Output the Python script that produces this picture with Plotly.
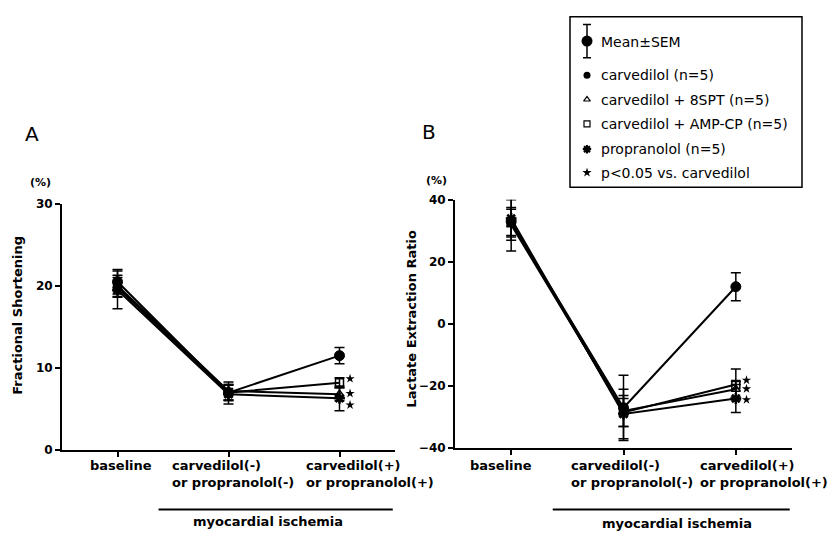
import plotly.graph_objects as go

W, H = 831, 535

# ---------------- data ----------------
categories = ["baseline", "carvedilol(-)<br>or propranolol(-)", "carvedilol(+)<br>or propranolol(+)"]
cat_idx = [0, 1, 2]

series_names = ["carvedilol (n=5)", "carvedilol + 8SPT (n=5)", "carvedilol + AMP-CP (n=5)", "propranolol (n=5)"]

# Panel A: Fractional Shortening (%)
fs_carvedilol = [20.5, 7.0, 11.5]
fs_carvedilol_err = [1.5, 1.0, 1.0]
fs_8spt = [20.0, 7.2, 6.8]
fs_8spt_err = [1.3, 1.1, 0.8]
fs_ampcp = [19.8, 7.0, 8.2]
fs_ampcp_err = [1.2, 0.9, 0.6]
fs_propranolol = [19.5, 6.8, 6.3]
fs_propranolol_err = [2.3, 1.2, 1.5]
fs_star_y = [8.7, 6.9, 5.5]

# Panel B: Lactate Extraction Ratio (%)
ler_carvedilol = [33.0, -27.0, 12.0]
ler_carvedilol_err = [9.5, 10.5, 4.5]
ler_8spt = [32.0, -28.0, -21.0]
ler_8spt_err = [5.0, 5.0, 2.5]
ler_ampcp = [33.0, -28.5, -19.5]
ler_ampcp_err = [4.5, 4.5, 5.0]
ler_propranolol = [34.0, -29.0, -24.0]
ler_propranolol_err = [6.0, 8.0, 4.5]
ler_star_y = [-18.1, -20.9, -24.4]

fs_ticks = [0, 10, 20, 30]
ler_ticks = [-40, -20, 0, 20, 40]

FONT = "DejaVu Sans, Arial, sans-serif"

def px(x):
    return x / W

def py(y):
    return 1 - y / H

styles = [
    dict(symbol="circle", size=10, color="black", line=dict(color="black", width=1)),
    dict(symbol="triangle-up-open", size=8, color="black", line=dict(color="black", width=1.5)),
    dict(symbol="square-open", size=8, color="black", line=dict(color="black", width=1.5)),
    dict(symbol="asterisk-open", size=9, color="black", line=dict(color="black", width=2.5)),
]
legend_styles = [
    dict(symbol="circle", size=7, color="black"),
    dict(symbol="triangle-up-open", size=6, color="black", line=dict(color="black", width=1.2)),
    dict(symbol="square-open", size=6, color="black", line=dict(color="black", width=1.2)),
    dict(symbol="asterisk-open", size=7, color="black", line=dict(color="black", width=2.2)),
]

fig = go.Figure()

def add_panel(xa, ya, vals, errs, star_y):
    for name, v, e, st in zip(series_names, vals, errs, styles):
        fig.add_trace(go.Scatter(
            x=cat_idx, y=v, mode="lines+markers", name=name, xaxis=xa, yaxis=ya,
            line=dict(color="black", width=2), marker=st, cliponaxis=False,
            error_y=dict(type="data", array=e, visible=True, color="black", thickness=1.5, width=5),
            showlegend=False,
        ))
    fig.add_trace(go.Scatter(
        x=[cat_idx[-1] + 0.095] * len(star_y), y=star_y, mode="markers", xaxis=xa, yaxis=ya,
        marker=dict(symbol="star", size=7, color="black"), showlegend=False, cliponaxis=False,
    ))

add_panel("x", "y",
          [fs_carvedilol, fs_8spt, fs_ampcp, fs_propranolol],
          [fs_carvedilol_err, fs_8spt_err, fs_ampcp_err, fs_propranolol_err], fs_star_y)
add_panel("x2", "y2",
          [ler_carvedilol, ler_8spt, ler_ampcp, ler_propranolol],
          [ler_carvedilol_err, ler_8spt_err, ler_ampcp_err, ler_propranolol_err], ler_star_y)

# ---------------- legend (manual, overlay axis in pixel coords) ----------------
leg_x = 587
leg_rows = [70, 95, 120, 146]
for (name, st, yy) in zip(series_names, legend_styles, leg_rows):
    fig.add_trace(go.Scatter(x=[leg_x], y=[yy], mode="markers", xaxis="x3", yaxis="y3",
                             marker=st, showlegend=False, hoverinfo="skip"))
fig.add_trace(go.Scatter(x=[leg_x], y=[35], mode="markers", xaxis="x3", yaxis="y3",
                         marker=dict(symbol="circle", size=11, color="black"),
                         error_y=dict(type="constant", value=17, visible=True, color="black", thickness=1.5, width=4),
                         showlegend=False, hoverinfo="skip"))
fig.add_trace(go.Scatter(x=[leg_x], y=[170], mode="markers", xaxis="x3", yaxis="y3",
                         marker=dict(symbol="star", size=7, color="black"), showlegend=False, hoverinfo="skip"))

legend_texts = ["Mean\u00b1SEM"] + series_names + ["p<0.05 vs. carvedilol"]
legend_ys = [36] + leg_rows + [170]
annotations = []
for t, yy in zip(legend_texts, legend_ys):
    annotations.append(dict(x=px(599), y=py(yy), xref="paper", yref="paper", text=t,
                            showarrow=False, xanchor="left", yanchor="middle",
                            font=dict(family=FONT, size=14, color="black")))

shapes = [dict(type="rect", xref="paper", yref="paper", x0=px(570), x1=px(802), y0=py(185), y1=py(10),
               line=dict(color="black", width=1.5))]

# ---------------- axes ----------------
axis_common = dict(showgrid=False, zeroline=False, showline=True, linecolor="black", linewidth=2,
                   ticks="outside", ticklen=5, tickwidth=1.5, tickcolor="black",
                   tickfont=dict(family=FONT, size=12, color="black", weight="bold"))

fig.update_layout(
    width=W, height=H, margin=dict(l=0, r=0, t=0, b=0),
    paper_bgcolor="white", plot_bgcolor="rgba(0,0,0,0)",
    showlegend=False,
    xaxis=dict(domain=[px(62), px(395)], range=[-0.5, 2.5], tickvals=cat_idx, showticklabels=False,
               anchor="y", **axis_common),
    yaxis=dict(domain=[py(455), py(202)], range=[0, 30], tickvals=fs_ticks, anchor="x", **axis_common),
    xaxis2=dict(domain=[px(455), px(792)], range=[-0.5, 2.5], tickvals=cat_idx, showticklabels=False,
                anchor="y2", **axis_common),
    yaxis2=dict(domain=[py(453), py(198)], range=[-40, 40], tickvals=ler_ticks, anchor="x2", **axis_common),
    xaxis3=dict(domain=[0, 1], range=[0, W], visible=False, anchor="y3"),
    yaxis3=dict(domain=[0, 1], range=[H, 0], visible=False, anchor="x3"),
)

# category labels under each panel
label_shift = [3, 4, 30]
label_shift_b = [-10, 8, 28]
for xa, shifts in (("x", label_shift), ("x2", label_shift_b)):
    for i, (c, s) in enumerate(zip(categories, shifts)):
        annotations.append(dict(x=cat_idx[i], y=py(461), xref=xa, yref="paper", text=c, showarrow=False,
                                xanchor="center", yanchor="top", align="left", xshift=s,
                                font=dict(family=FONT, size=13, color="black", weight="bold")))
    shapes.append(dict(type="line", xref=xa, yref="paper", x0=0.37, x1=2.48, y0=py(516), y1=py(516),
                       line=dict(color="black", width=2)))

for cx, cy in ((268, 528), (677, 530)):
    annotations.append(dict(x=px(cx), y=py(cy), xref="paper", yref="paper", text="myocardial ischemia",
                            showarrow=False, xanchor="center", yanchor="middle",
                            font=dict(family=FONT, size=13, color="black", weight="bold")))

# panel letters, units, axis titles
annotations += [
    dict(x=px(32), y=py(130), xref="paper", yref="paper", text="A", showarrow=False,
         xanchor="center", yanchor="middle", font=dict(family=FONT, size=20, color="black")),
    dict(x=px(429), y=py(128), xref="paper", yref="paper", text="B", showarrow=False,
         xanchor="center", yanchor="middle", font=dict(family=FONT, size=20, color="black")),
    dict(x=px(40), y=py(180), xref="paper", yref="paper", text="(%)", showarrow=False,
         xanchor="center", yanchor="middle", font=dict(family=FONT, size=11, color="black", weight="bold")),
    dict(x=px(437), y=py(178), xref="paper", yref="paper", text="(%)", showarrow=False,
         xanchor="center", yanchor="middle", font=dict(family=FONT, size=11, color="black", weight="bold")),
    dict(x=px(18), y=py(317), xref="paper", yref="paper", text="Fractional Shortening", showarrow=False,
         xanchor="center", yanchor="middle", textangle=-90,
         font=dict(family=FONT, size=13, color="black", weight="bold")),
    dict(x=px(412), y=py(320), xref="paper", yref="paper", text="Lactate Extraction Ratio", showarrow=False,
         xanchor="center", yanchor="middle", textangle=-90,
         font=dict(family=FONT, size=13, color="black", weight="bold")),
]

fig.update_layout(annotations=annotations, shapes=shapes)
fig.write_html("out.html", config={"displayModeBar": False},
               post_script="document.body.style.margin='0';document.body.style.overflow='hidden';")
